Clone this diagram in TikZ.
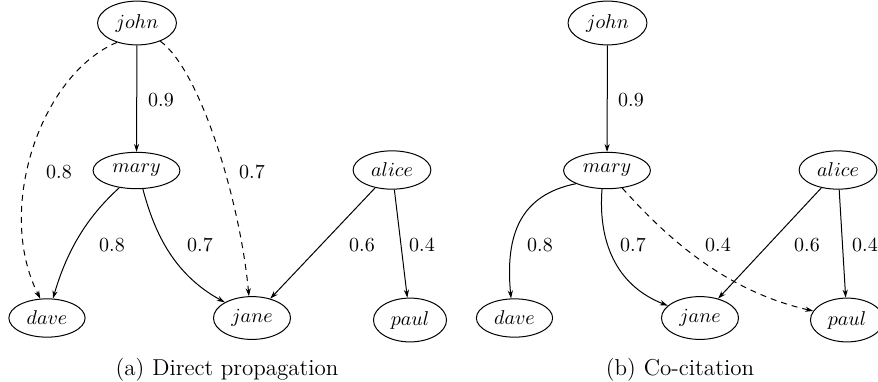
\documentclass[tikz,border=0pt]{standalone}
\usetikzlibrary{arrows.meta,shapes.geometric}
\begin{document}
\begin{tikzpicture}[x=0.5pt,y=-0.5pt,
  vert/.style={ellipse,draw,inner sep=3.3pt,line width=0.5pt},
  lab/.style={inner sep=0pt},
  edge/.style={-{Stealth[length=4pt,width=2.6pt]},line width=0.5pt},
  prop/.style={edge,dash pattern=on 3pt off 2.5pt},
  captext/.style={anchor=base,inner sep=0pt,font=\fontsize{11.5}{14}\selectfont}]
\useasboundingbox (0,0) rectangle (878,381);
% ---- (a) ----
\node[vert] (j1) at (137,23) {$john$};
\node[vert] (m1) at (136.5,170.5) {$mary$};
\node[vert] (a1) at (392,170) {$alice$};
\node[vert] (d1) at (47,318) {$dave$};
\node[vert] (ja1) at (252,318) {$jane$};
\node[vert] (p1) at (410,320) {$paul$};
\draw[edge] (j1) -- (m1);
\draw[prop] (j1.224) .. controls (40,75) and (-5,210) .. (d1.109);
\draw[prop] (j1.322) .. controls (200,70) and (240,200) .. (ja1.98);
\draw[edge] (m1.225) .. controls (95,210) and (70,240) .. (d1.73);
\draw[edge] (m1.289) .. controls (155,235) and (175,275) .. (ja1.150);
\draw[edge] (a1) -- (ja1);
\draw[edge] (a1) -- (p1);
\node[lab] (la1) at (161,100) {$0.9$};
\node[lab] (la2) at (59,172) {$0.8$};
\node[lab] (la3) at (252,172) {$0.7$};
\node[lab] (la4) at (112,245) {$0.8$};
\node[lab] (la5) at (200,245) {$0.7$};
\node[lab] (la6) at (362,245) {$0.6$};
\node[lab] (la7) at (422,245) {$0.4$};
\node[captext] (ca) at (227,375) {(a)\hspace{4pt}Direct propagation};
% ---- (b) ----
\node[vert] (j2) at (607.5,23) {$john$};
\node[vert] (m2) at (607,170.5) {$mary$};
\node[vert] (a2) at (838,170) {$alice$};
\node[vert] (d2) at (514.5,318) {$dave$};
\node[vert] (ja2) at (700,318) {$jane$};
\node[vert] (p2) at (847,320) {$paul$};
\draw[edge] (j2) -- (m2);
\draw[edge] (m2.203) .. controls (520,195) and (505,235) .. (d2.100);
\draw[edge] (m2.255) .. controls (598,240) and (615,285) .. (ja2.159);
\draw[prop] (m2.311) .. controls (660,230) and (720,290) .. (p2.165);
\draw[edge] (a2) -- (ja2);
\draw[edge] (a2) -- (p2);
\node[lab] (lb1) at (631,100) {$0.9$};
\node[lab] (lb2) at (540,245) {$0.8$};
\node[lab] (lb3) at (633,245) {$0.7$};
\node[lab] (lb4) at (718,245) {$0.4$};
\node[lab] (lb5) at (807,245) {$0.6$};
\node[lab] (lb6) at (865,245) {$0.4$};
\node[captext] (cb) at (680,375) {(b)\hspace{4pt}Co-citation};
\end{tikzpicture}
\end{document}
